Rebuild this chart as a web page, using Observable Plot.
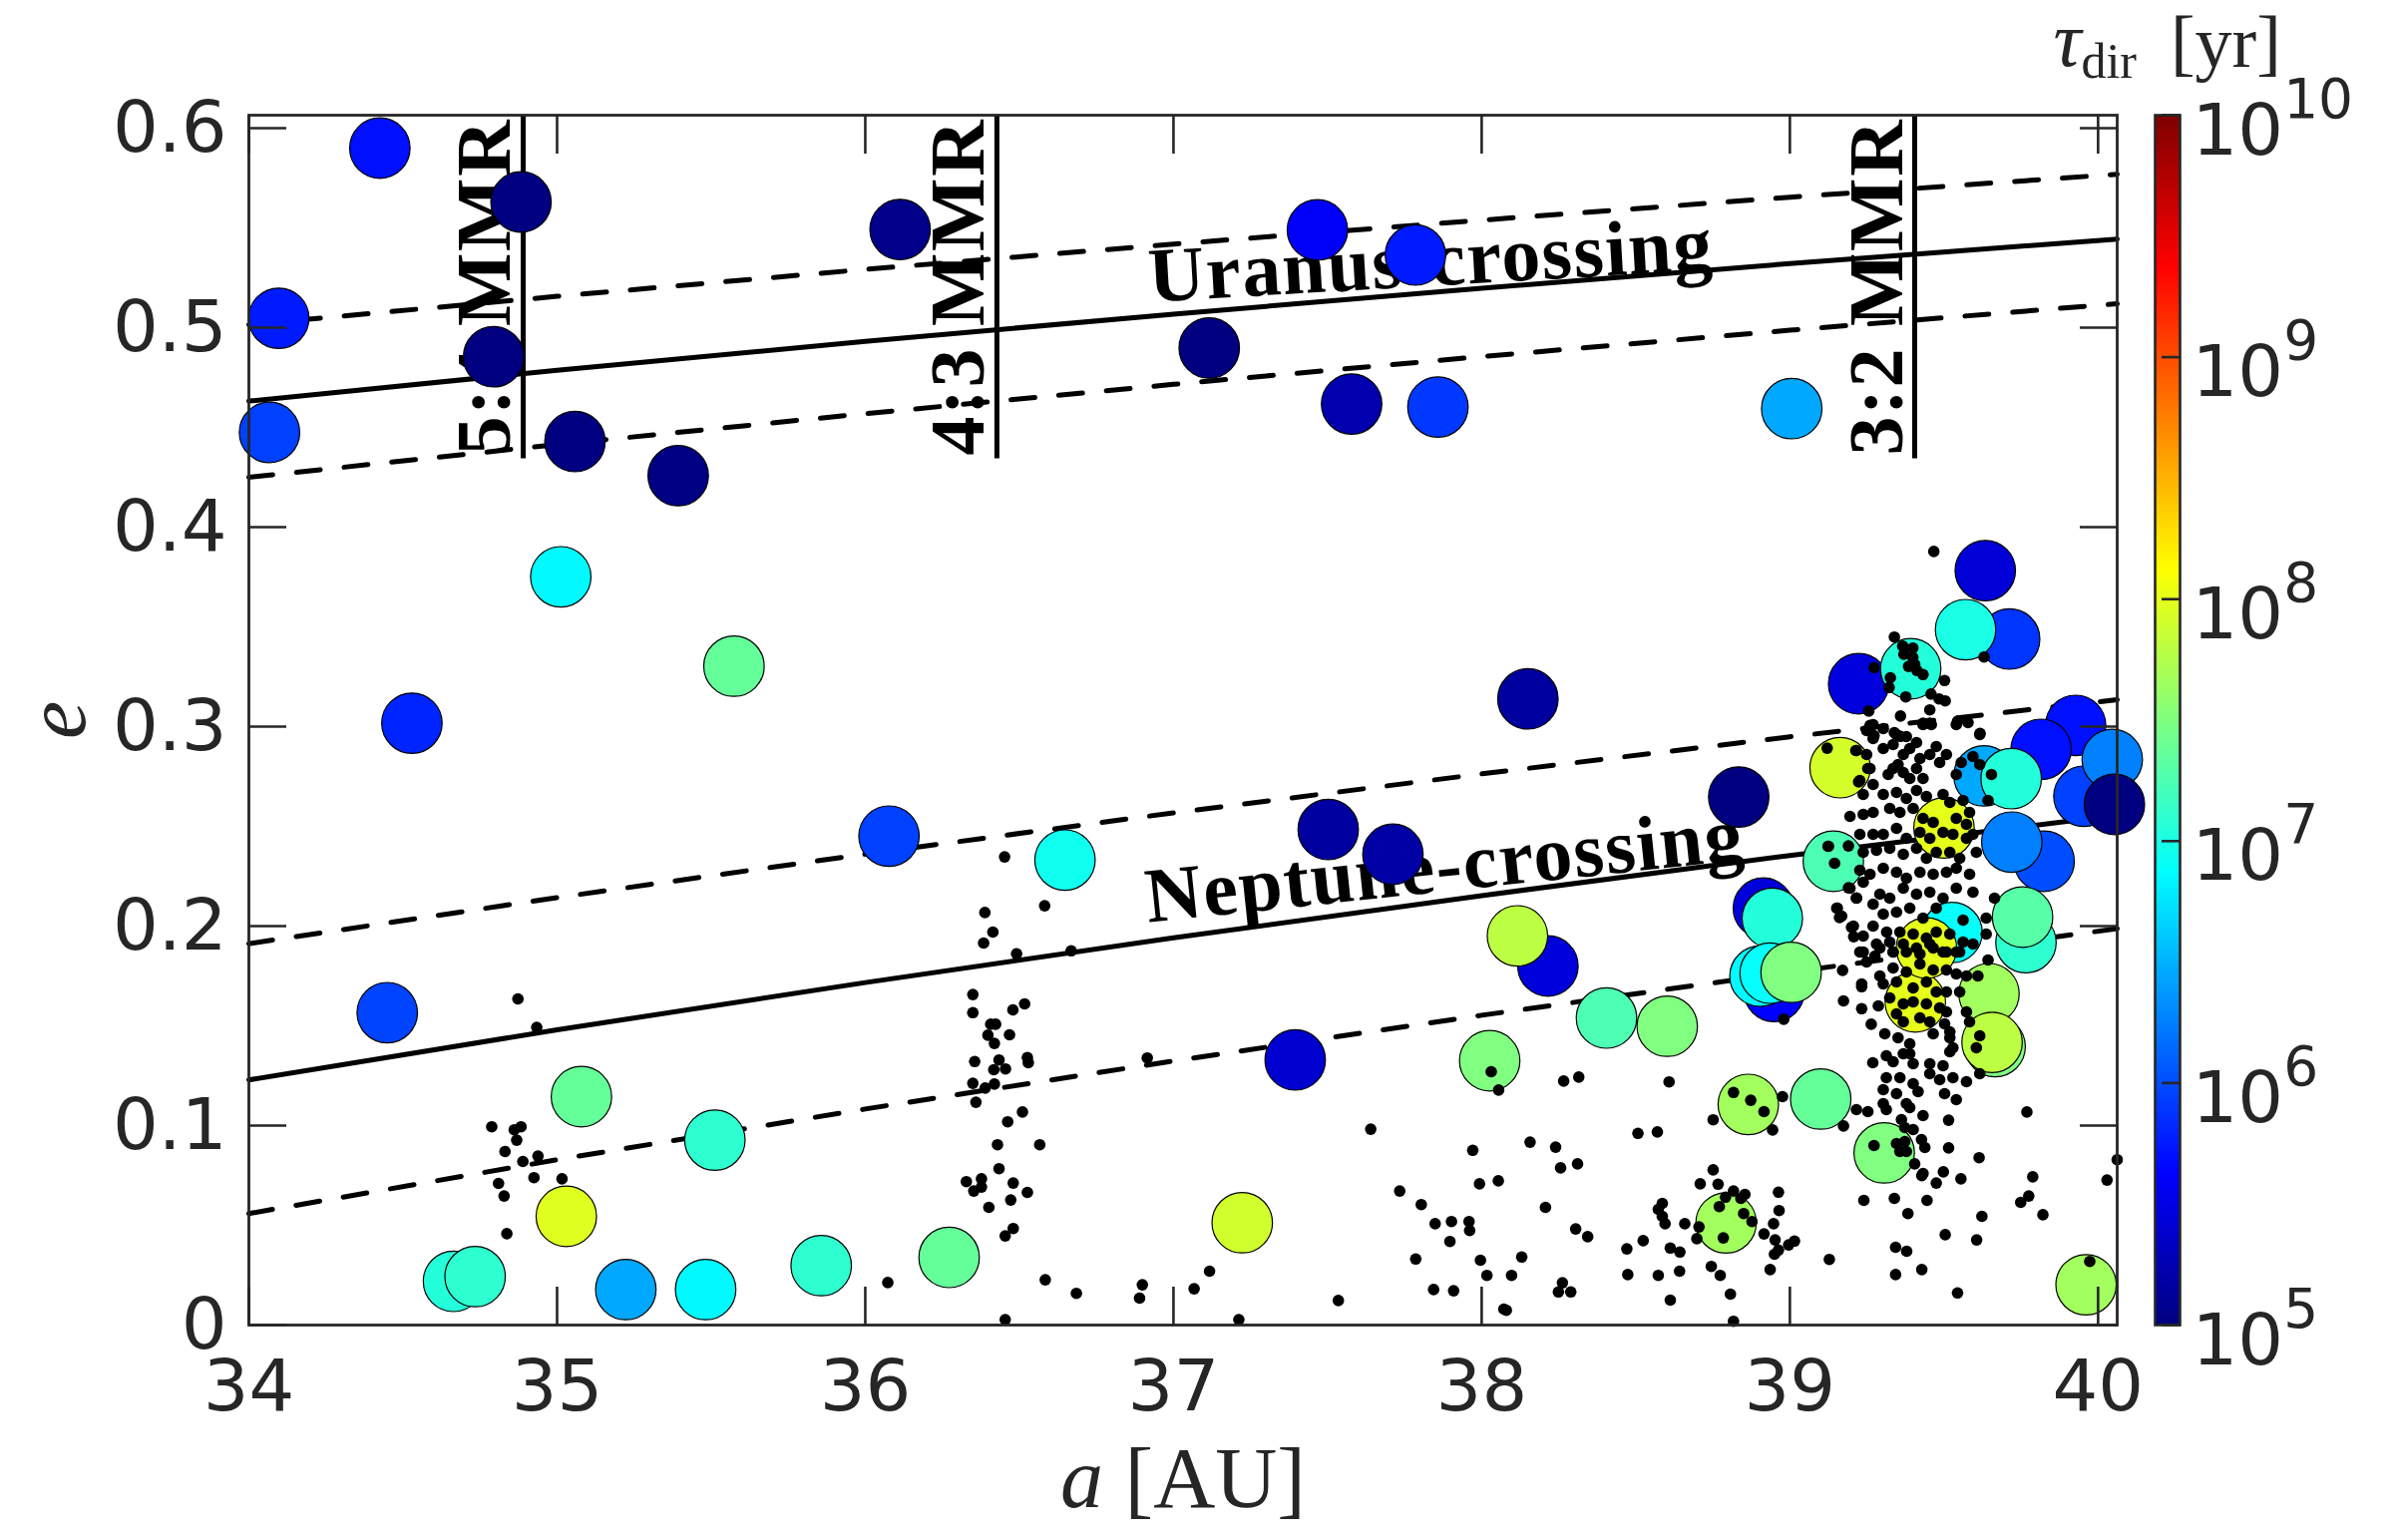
<!DOCTYPE html>
<html><head><meta charset="utf-8">
<script src="https://cdn.jsdelivr.net/npm/d3@7"></script>
<script src="https://cdn.jsdelivr.net/npm/@observablehq/plot@0.6"></script>
<style>
html,body{margin:0;padding:0;background:#fff;overflow:hidden}
#wrap{position:relative;width:2400px;height:1544px;background:#fff}
#wrap svg{position:absolute;left:0;top:0}
g[font-weight="bold"] text{letter-spacing:1.5px}
</style></head><body><div id="wrap"></div>
<script>
// ---- axes ----
const xTicks = [34, 35, 36, 37, 38, 39, 40];
const yTicks = [0, 0.1, 0.2, 0.3, 0.4, 0.5, 0.6];
const cbTicks = [5, 6, 7, 8, 9, 10]; // log10(tau_dir / yr)

// ---- crossing curves (a in AU, e) ----
const crossA = [34, 35, 36, 37, 38, 39, 40.062];
const uranusE = [0.4632, 0.4786, 0.4931, 0.5068, 0.5197, 0.5321, 0.5444];
const uranusUpperE = [0.5015, 0.5157, 0.5292, 0.5419, 0.5539, 0.5654, 0.5769];
const uranusLowerE = [0.4250, 0.4414, 0.4569, 0.4716, 0.4855, 0.4987, 0.5120];
const neptuneE = [0.1229, 0.1480, 0.1717, 0.1941, 0.2153, 0.2354, 0.2556];
const neptuneUpperE = [0.1912, 0.2143, 0.2361, 0.2568, 0.2763, 0.2949, 0.3135];
const neptuneLowerE = [0.0559, 0.0829, 0.1083, 0.1324, 0.1553, 0.1769, 0.1987];
const crossLabels = ["Uranus-crossing", "Neptune-crossing"];
const crossLabelA = [36.923, 36.918];
const crossLabelE = [0.5129, 0.2019];

// ---- mean-motion resonances ----
const mmrA = [34.890, 36.427, 39.405];
const mmrLabels = ["5:4 MMR", "4:3 MMR", "3:2 MMR"];
const mmrBottomE = 0.4343;
const mmrLabelE = 0.436;

// ---- large circles: a, e, log10(tau_dir) ----
const circleA = [34.425, 34.883, 34.097, 34.794, 34.067, 35.058, 35.393, 35.012, 35.574, 34.529, 34.449, 35.079, 35.512, 35.030, 34.664, 34.734, 35.223, 35.482, 35.857, 36.077, 36.113, 36.648, 36.272, 37.116, 37.467, 37.785, 37.578, 37.858, 37.502, 37.712, 37.395, 37.223, 38.026, 38.215, 38.116, 38.150, 39.006, 38.834, 38.405, 38.602, 38.914, 38.943, 38.949, 38.903, 38.936, 39.004, 38.865, 39.100, 39.306, 38.793, 39.961, 39.163, 39.141, 39.634, 39.713, 39.570, 39.223, 39.392, 39.927, 39.815, 39.630, 39.718, 39.954, 40.046, 40.053, 39.825, 39.720, 39.766, 39.755, 39.646, 39.666, 39.656, 39.526, 39.500, 39.407, 39.443];
const circleE = [0.590, 0.563, 0.5047, 0.4854, 0.4475, 0.4429, 0.4258, 0.3751, 0.3303, 0.3017, 0.1566, 0.1145, 0.0927, 0.0545, 0.0219, 0.0243, 0.0178, 0.0178, 0.0298, 0.2451, 0.5492, 0.2331, 0.0339, 0.4898, 0.549, 0.5364, 0.4617, 0.4602, 0.2484, 0.236, 0.1329, 0.0513, 0.1325, 0.1800, 0.1951, 0.3139, 0.4594, 0.2647, 0.1539, 0.1498, 0.2090, 0.2039, 0.1672, 0.1749, 0.1764, 0.1768, 0.1106, 0.1133, 0.0863, 0.0512, 0.0202, 0.2794, 0.2325, 0.3782, 0.3439, 0.3486, 0.3215, 0.3290, 0.3006, 0.2886, 0.2753, 0.2739, 0.2651, 0.2835, 0.2610, 0.2325, 0.2421, 0.1917, 0.2045, 0.1661, 0.1396, 0.1417, 0.1968, 0.2492, 0.1620, 0.1890];
const circleLogTau = [5.70, 5.00, 5.75, 5.00, 5.94, 5.00, 5.02, 6.85, 7.37, 5.80, 5.96, 7.37, 7.10, 7.97, 7.05, 7.10, 6.45, 6.85, 7.10, 5.94, 5.05, 6.95, 7.37, 5.00, 5.60, 5.75, 5.23, 5.90, 5.16, 5.18, 5.40, 7.90, 7.50, 5.45, 7.80, 5.15, 6.45, 5.00, 7.25, 7.50, 5.45, 7.05, 5.62, 6.85, 6.90, 7.50, 7.67, 7.37, 7.50, 7.67, 7.67, 7.92, 7.25, 5.43, 5.88, 7.00, 5.47, 7.05, 5.70, 5.70, 6.45, 7.05, 5.94, 6.25, 5.00, 6.00, 6.25, 7.10, 7.30, 7.67, 7.50, 7.80, 6.90, 8.00, 8.00, 8.00];

// ---- small black dots [a, e] ----
const dots54 = [[34.873,0.1635],[34.934,0.1492],[34.788,0.0994],[34.861,0.0979],[34.883,0.0994],[34.869,0.0927],[34.831,0.0870],[34.889,0.0820],[34.938,0.0847],[34.925,0.0739],[35.016,0.0733],[34.810,0.0710],[34.828,0.0647],[34.837,0.0458]];
const dots43 = [[36.452,0.2347],[36.388,0.2068],[36.582,0.2102],[36.414,0.1970],[36.384,0.1915],[36.491,0.1861],[36.668,0.1876],[36.349,0.1657],[36.349,0.1566],[36.479,0.1580],[36.517,0.1610],[36.407,0.1508],[36.423,0.1508],[36.398,0.1453],[36.468,0.1455],[36.419,0.1412],[36.355,0.1321],[36.434,0.1329],[36.526,0.1341],[36.529,0.1315],[36.417,0.1280],[36.455,0.1284],[36.349,0.1212],[36.389,0.1188],[36.419,0.1208],[36.359,0.1117],[36.915,0.1339],[36.510,0.1068],[36.462,0.1019],[36.429,0.0904],[36.566,0.0904],[36.434,0.0784],[36.328,0.0719],[36.377,0.0733],[36.352,0.0672],[36.377,0.0692],[36.480,0.0712],[36.526,0.0665],[36.472,0.0627],[36.401,0.0590],[36.480,0.0484],[36.454,0.0447],[36.073,0.0213],[36.584,0.0227],[36.685,0.0159],[36.899,0.0202],[36.890,0.0135],[36.454,0.0027],[37.067,0.0182],[37.117,0.0270],[37.212,0.0027],[37.535,0.0123],[37.640,0.0982],[37.971,0.0876],[37.734,0.0672],[37.804,0.0604],[37.849,0.0508],[37.902,0.0519],[37.959,0.0519],[37.961,0.0474],[37.897,0.0419],[37.786,0.0331],[37.993,0.0708],[38.054,0.0723],[37.996,0.0325],[38.017,0.0249],[37.844,0.0178],[37.909,0.0172],[38.072,0.0080],[38.031,0.1270],[38.055,0.1178]];
const dotsOuter = [[39.121,0.2892],[39.214,0.2880],[39.253,0.2790],[39.223,0.2723],[39.124,0.2400],[39.190,0.2402],[39.145,0.2315],[39.190,0.2192],[39.216,0.2141],[39.154,0.2090],[39.161,0.2043],[39.200,0.1994],[39.207,0.1947],[39.171,0.1778],[39.233,0.1696],[39.174,0.1625],[39.233,0.1586],[39.264,0.1508],[38.980,0.1533],[39.269,0.1315],[38.266,0.1223],[38.315,0.1243],[38.608,0.1219],[38.817,0.1166],[38.873,0.1127],[38.916,0.1070],[38.976,0.1145],[38.751,0.1029],[38.944,0.0978],[38.507,0.0961],[38.570,0.0968],[39.174,0.0998],[39.216,0.1080],[39.253,0.1070],[38.157,0.0917],[38.240,0.0892],[38.256,0.0788],[38.311,0.0808],[39.273,0.0900],[39.769,0.1068],[39.515,0.1027],[39.515,0.0888],[39.614,0.0839],[40.062,0.0829],[40.029,0.0727],[39.788,0.0743],[39.775,0.0647],[39.749,0.0615],[39.821,0.0553],[39.623,0.0545],[39.555,0.0733],[39.498,0.0768],[39.475,0.0712],[39.428,0.0749],[39.405,0.0808],[39.445,0.0625],[39.339,0.0635],[39.240,0.0625],[39.383,0.0559],[39.504,0.0453],[39.606,0.0427],[39.343,0.0390],[39.379,0.0370],[39.343,0.0253],[39.428,0.0278],[39.544,0.0161],[39.128,0.0329],[38.936,0.0278],[38.963,0.0666],[38.965,0.0574],[38.947,0.0508],[38.916,0.0457],[38.952,0.0427],[39.015,0.0421],[38.996,0.0402],[38.963,0.0376],[38.950,0.0355],[38.751,0.0778],[38.709,0.0708],[38.767,0.0706],[38.791,0.0641],[38.817,0.0672],[38.841,0.0635],[38.854,0.0655],[38.771,0.0594],[38.850,0.0559],[38.877,0.0519],[38.784,0.0437],[38.705,0.0492],[38.659,0.0508],[38.698,0.0433],[38.586,0.0610],[38.573,0.0580],[38.586,0.0545],[38.595,0.0508],[38.612,0.0386],[38.643,0.0366],[38.745,0.0294],[38.774,0.0249],[38.642,0.0270],[38.807,0.0155],[38.817,0.0019],[38.612,0.0125],[38.573,0.0249],[38.524,0.0423],[38.471,0.0382],[38.474,0.0253],[38.262,0.0212],[38.249,0.0166],[38.289,0.0166],[38.130,0.0341],[38.097,0.0249],[38.080,0.0074],[38.207,0.0590],[38.305,0.0482],[38.344,0.0443],[39.973,0.0319]];
const dotsCoreTop = [[39.467,0.3878],[39.339,0.3449],[39.366,0.3404],[39.399,0.3394],[39.370,0.3363],[39.399,0.3347],[39.385,0.3302],[39.412,0.3282],[39.432,0.3261],[39.405,0.3312],[39.273,0.3296],[39.326,0.3245],[39.322,0.3196],[39.502,0.3231],[39.630,0.3349],[39.376,0.3149],[39.458,0.3163],[39.484,0.3139],[39.504,0.3129],[39.454,0.3084],[39.256,0.3078],[39.359,0.3053],[39.432,0.3017],[39.454,0.3017],[39.544,0.3027],[39.617,0.2966],[39.260,0.3006],[39.273,0.2955],[39.339,0.2970],[39.359,0.2951]];
const dotsCoreMid = [[39.270,0.301],[39.303,0.299],[39.249,0.298],[39.270,0.294],[39.346,0.296],[39.378,0.295],[39.411,0.292],[39.432,0.301],[39.459,0.301],[39.540,0.301],[39.578,0.302],[39.616,0.296],[39.475,0.290],[39.508,0.286],[39.303,0.289],[39.335,0.291],[39.368,0.286],[39.389,0.289],[39.422,0.284],[39.454,0.286],[39.486,0.282],[39.249,0.286],[39.216,0.288],[39.556,0.282],[39.594,0.285],[39.616,0.281],[39.654,0.276],[39.540,0.276],[39.335,0.279],[39.368,0.277],[39.411,0.279],[39.432,0.274],[39.389,0.274],[39.260,0.279],[39.227,0.273],[39.319,0.276],[39.351,0.281],[39.270,0.271],[39.238,0.266],[39.303,0.266],[39.346,0.267],[39.378,0.264],[39.411,0.268],[39.443,0.265],[39.497,0.266],[39.519,0.262],[39.562,0.263],[39.643,0.263],[39.195,0.255],[39.238,0.256],[39.270,0.257],[39.324,0.259],[39.357,0.257],[39.400,0.259],[39.432,0.254],[39.465,0.252],[39.540,0.254],[39.583,0.257],[39.573,0.251],[39.227,0.246],[39.270,0.246],[39.303,0.246],[39.346,0.249],[39.378,0.244],[39.422,0.247],[39.454,0.244],[39.497,0.247],[39.529,0.246],[39.573,0.244],[39.594,0.246],[39.238,0.237],[39.281,0.238],[39.324,0.239],[39.368,0.236],[39.411,0.239],[39.443,0.234],[39.475,0.237],[39.519,0.237],[39.551,0.234],[39.605,0.237],[39.125,0.240],[39.227,0.228],[39.260,0.226],[39.303,0.229],[39.346,0.227],[39.378,0.224],[39.422,0.227],[39.465,0.226],[39.508,0.227],[39.540,0.229],[39.583,0.226],[39.238,0.222],[39.195,0.219],[39.292,0.216],[39.324,0.214],[39.368,0.219],[39.411,0.216],[39.454,0.217],[39.497,0.214],[39.540,0.219],[39.594,0.217],[39.664,0.214],[39.216,0.214],[39.152,0.209],[39.168,0.205],[39.270,0.211],[39.303,0.206],[39.346,0.207],[39.389,0.209],[39.432,0.204],[39.475,0.209],[39.562,0.203],[39.637,0.204],[39.206,0.200],[39.238,0.195],[39.270,0.200],[39.314,0.197],[39.357,0.197],[39.400,0.196],[39.443,0.194],[39.475,0.197],[39.519,0.196],[39.562,0.192],[39.594,0.191],[39.637,0.196],[39.292,0.189],[39.335,0.187],[39.378,0.187],[39.422,0.186],[39.465,0.189],[39.508,0.187],[39.551,0.187],[39.238,0.187]];
const dotsCoreLow = [[39.227,0.187],[39.249,0.182],[39.276,0.185],[39.335,0.187],[39.368,0.191],[39.411,0.189],[39.454,0.191],[39.497,0.187],[39.540,0.187],[39.281,0.191],[39.324,0.192],[39.292,0.175],[39.335,0.179],[39.378,0.177],[39.422,0.181],[39.465,0.178],[39.508,0.178],[39.540,0.176],[39.573,0.175],[39.610,0.175],[39.643,0.183],[39.233,0.171],[39.303,0.171],[39.346,0.172],[39.400,0.169],[39.443,0.172],[39.475,0.167],[39.508,0.167],[39.551,0.167],[39.287,0.160],[39.324,0.164],[39.368,0.161],[39.400,0.162],[39.443,0.161],[39.486,0.159],[39.508,0.157],[39.573,0.157],[39.346,0.156],[39.368,0.152],[39.422,0.154],[39.454,0.152],[39.502,0.151],[39.583,0.152],[39.308,0.146],[39.351,0.144],[39.389,0.141],[39.465,0.146],[39.519,0.147],[39.519,0.144],[39.616,0.145],[39.605,0.139],[39.313,0.135],[39.335,0.132],[39.368,0.136],[39.389,0.136],[39.400,0.131],[39.454,0.131],[39.497,0.130],[39.519,0.137],[39.529,0.139],[39.313,0.124],[39.357,0.124],[39.400,0.121],[39.454,0.126],[39.486,0.123],[39.529,0.124],[39.573,0.122],[39.616,0.126],[39.303,0.118],[39.346,0.116],[39.416,0.117],[39.502,0.116],[39.540,0.113],[39.303,0.111],[39.313,0.108],[39.378,0.111],[39.389,0.109],[39.432,0.105],[39.362,0.103],[39.373,0.099],[39.400,0.098],[39.427,0.093],[39.438,0.089],[39.346,0.091],[39.373,0.092],[39.357,0.087],[39.378,0.087],[39.432,0.076]];

// ---- build ----
function jet(t) {
  const c = v => Math.round(255 * Math.max(0, Math.min(1, v)));
  return `rgb(${c(1.5 - Math.abs(4 * t - 3))},${c(1.5 - Math.abs(4 * t - 2))},${c(1.5 - Math.abs(4 * t - 1))})`;
}
const circles = circleA.map((a, i) => ({a, e: circleE[i], t: circleLogTau[i]}));
const dots = [...dots54, ...dots43, ...dotsOuter, ...dotsCoreTop, ...dotsCoreMid, ...dotsCoreLow];
const INK = "#262626";
const serif = "Liberation Serif";
const lineOpts = (arr, dashed) => ({x: d => d, y: (d, i) => arr[i], stroke: "black", strokeWidth: 5, strokeDasharray: dashed ? "24,24" : null});

const main = Plot.plot({
  width: 2400, height: 1544,
  marginLeft: 249, marginRight: 278, marginTop: 115, marginBottom: 216,
  x: {domain: [34, 40.062]},
  y: {domain: [0, 0.6065]},
  color: {type: "linear", domain: [5, 10], interpolate: jet},
  style: {fontFamily: "DejaVu Sans", color: INK, background: "white", overflow: "visible"},
  marks: [
    Plot.line(crossA, lineOpts(uranusUpperE, true)),
    Plot.line(crossA, lineOpts(uranusLowerE, true)),
    Plot.line(crossA, lineOpts(uranusE, false)),
    Plot.line(crossA, lineOpts(neptuneUpperE, true)),
    Plot.line(crossA, lineOpts(neptuneLowerE, true)),
    Plot.line(crossA, lineOpts(neptuneE, false)),
    Plot.ruleX(mmrA, {x: d => d, y1: mmrBottomE, y2: 0.6065, stroke: "black", strokeWidth: 5}),
    Plot.text(mmrA, {x: d => d, y: mmrLabelE, text: (d, i) => mmrLabels[i], rotate: -90, textAnchor: "start", lineAnchor: "bottom", dx: -13, fontSize: 78, fontWeight: "bold", fontFamily: serif, fill: "black"}),
    Plot.text([0], {x: crossLabelA[0], y: crossLabelE[0], text: () => crossLabels[0], rotate: -3.3, textAnchor: "start", lineAnchor: "bottom", fontSize: 78, fontWeight: "bold", fontFamily: serif, fill: "black"}),
    Plot.text([1], {x: crossLabelA[1], y: crossLabelE[1], text: () => crossLabels[1], rotate: -6.0, textAnchor: "start", lineAnchor: "bottom", fontSize: 78, fontWeight: "bold", fontFamily: serif, fill: "black"}),
    Plot.dot(circles, {x: "a", y: "e", r: 30.3, fill: "t", stroke: "black", strokeWidth: 1.2}),
    Plot.dot(dots, {x: d => d[0], y: d => d[1], r: 5.8, fill: "black"}),
    Plot.axisX({anchor: "bottom", ticks: xTicks, tickSize: -38, strokeWidth: 2.6, tickFormat: () => "", label: null}),
    Plot.axisX({anchor: "top", ticks: xTicks, tickSize: -38, strokeWidth: 2.6, tickFormat: () => "", label: null}),
    Plot.axisY({anchor: "left", ticks: yTicks, tickSize: -38, strokeWidth: 2.6, tickFormat: () => "", label: null}),
    Plot.axisY({anchor: "right", ticks: yTicks, tickSize: -38, strokeWidth: 2.6, tickFormat: () => "", label: null}),
    Plot.axisX({anchor: "bottom", ticks: xTicks, tickSize: 0, tickPadding: 34, fontSize: 72, label: null, tickFormat: d => String(d)}),
    Plot.axisY({anchor: "left", ticks: yTicks, tickSize: 0, tickPadding: 22, fontSize: 72, label: null, tickFormat: d => String(d)}),
    Plot.frame({stroke: INK, strokeWidth: 2.8}),
    Plot.text(["a [AU]"], {frameAnchor: "bottom", text: d => d, dy: 182, lineAnchor: "bottom", fontSize: 86, fontFamily: serif, fill: INK}),
    Plot.text(["e"], {frameAnchor: "left", text: d => d, rotate: -90, dx: -165, lineAnchor: "bottom", textAnchor: "middle", fontStyle: "italic", fontSize: 86, fontFamily: serif, fill: INK})
  ]
});

const cbar = Plot.plot({
  width: 2400, height: 1544,
  marginLeft: 2160, marginRight: 215, marginTop: 115, marginBottom: 216,
  x: {domain: [0, 1], axis: null},
  y: {domain: [5, 10]},
  color: {type: "linear", domain: [5, 10], interpolate: jet},
  style: {fontFamily: "DejaVu Sans", color: INK, background: "transparent", overflow: "visible"},
  marks: [
    Plot.raster({x1: 0, x2: 1, y1: 5, y2: 10, fill: (x, y) => y, pixelSize: 1}),
    Plot.axisY({anchor: "right", ticks: cbTicks, tickSize: -19, strokeWidth: 2.6, tickFormat: () => "", label: null}),
    Plot.axisY({anchor: "right", ticks: cbTicks, tickSize: 0, tickPadding: 12, fontSize: 72, label: null, tickFormat: d => `10^${d}`}),
    Plot.frame({stroke: INK, strokeWidth: 2.6}),
    Plot.text(["τdir [yr]"], {frameAnchor: "top-left", text: d => d, dx: -102, dy: -50, textAnchor: "start", lineAnchor: "bottom", fontSize: 64, fontFamily: serif, fill: INK})
  ]
});

const wrap = document.getElementById("wrap");
wrap.append(main, cbar);

// ---- rich text: italics, sub- and superscripts ----
const NS = "http://www.w3.org/2000/svg";
function span(txt, attrs) {
  const s = document.createElementNS(NS, "tspan");
  for (const k in attrs) s.setAttribute(k, attrs[k]);
  s.textContent = txt;
  return s;
}
main.querySelectorAll("text").forEach(t => {
  if (t.textContent === "a [AU]") {
    t.textContent = "";
    t.append(span("a", {"font-style": "italic"}), span(" [AU]", {}));
  }
});
cbar.querySelectorAll("text").forEach(t => {
  const s = t.textContent;
  if (s.startsWith("10^")) {
    const ex = s.slice(3);
    t.textContent = "";
    t.append(span("10", {dy: "16"}), span(ex, {dy: "-37", "font-size": "55"}));
  } else if (s === "τdir [yr]") {
    t.textContent = "";
    t.append(span("τ", {"font-style": "italic", "font-size": "78"}),
             span("dir", {"font-size": "50", dy: "12"}),
             span("[yr]", {"font-size": "74", dy: "-11", dx: "34"}));
  }
});
</script></body></html>
